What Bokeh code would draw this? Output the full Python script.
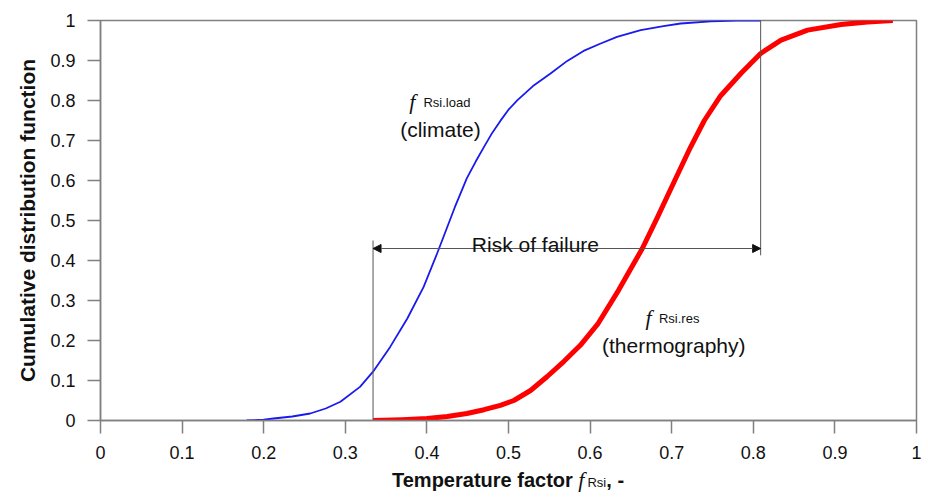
from bokeh.plotting import figure
from bokeh.models import Range1d, FixedTicker, Label, Arrow, NormalHead, ColumnDataSource, Div
from bokeh.layouts import column
from bokeh.embed import file_html
from bokeh.resources import INLINE

# ---- data ----
load_x = [0.179, 0.200, 0.212, 0.235, 0.257, 0.276, 0.294, 0.318, 0.334, 0.355, 0.376, 0.396,
          0.4125, 0.419, 0.434, 0.449, 0.460, 0.470, 0.480, 0.490, 0.500, 0.511, 0.530, 0.5515,
          0.572, 0.592, 0.613, 0.633, 0.662, 0.690, 0.711, 0.748, 0.780, 0.809]
load_y = [0.0, 0.002, 0.005, 0.010, 0.0175, 0.030, 0.047, 0.084, 0.122, 0.184, 0.255, 0.334,
          0.4175, 0.452, 0.532, 0.606, 0.648, 0.684, 0.719, 0.749, 0.777, 0.801, 0.836, 0.8675,
          0.899, 0.924, 0.9425, 0.959, 0.976, 0.986, 0.9925, 0.998, 1.0, 1.0]

res_x = [0.334, 0.370, 0.400, 0.425, 0.449, 0.470, 0.490, 0.5065, 0.527, 0.5475, 0.568, 0.588,
         0.610, 0.635, 0.664, 0.6825, 0.703, 0.723, 0.740, 0.760, 0.785, 0.809,
         0.834, 0.8665, 0.9075, 0.94, 0.971]
res_y = [0.0, 0.002, 0.005, 0.010, 0.0175, 0.027, 0.038, 0.05, 0.075, 0.11, 0.148, 0.188,
         0.243, 0.326, 0.43, 0.508, 0.597, 0.683, 0.750, 0.812, 0.868, 0.9175,
         0.951, 0.976, 0.99, 0.9965, 1.0]

guide_x = [0.334, 0.809]
guide_y0 = [0.0, 0.413]
guide_y1 = [0.45, 1.0]

arrow_x0 = [0.334]
arrow_x1 = [0.809]
arrow_y = [0.43]

ticks = [0, 0.1, 0.2, 0.3, 0.4, 0.5, 0.6, 0.7, 0.8, 0.9, 1]
tick_labels = ["0", "0.1", "0.2", "0.3", "0.4", "0.5", "0.6", "0.7", "0.8", "0.9", "1"]

SANS = "Liberation Sans"
SERIF = "Liberation Serif"
AXC = "#808080"
TXT = "#111111"

p = figure(width=928, height=470, x_range=Range1d(0, 1), y_range=Range1d(0, 1),
           output_backend="svg", toolbar_location=None,
           min_border_left=100, min_border_right=12, min_border_top=20, min_border_bottom=50)
p.title.visible = False
p.grid.visible = False
p.outline_line_color = AXC
p.outline_line_width = 1.5
p.background_fill_color = "white"
p.border_fill_color = "white"
p.margin = 0

overrides = {t: l for t, l in zip(ticks, tick_labels)}
for ax in (p.xaxis[0], p.yaxis[0]):
    ax.ticker = FixedTicker(ticks=ticks)
    ax.major_label_overrides = overrides
    ax.minor_tick_line_color = None
    ax.major_tick_in = 0
    ax.major_tick_out = 13
    ax.major_tick_line_color = AXC
    ax.major_tick_line_width = 1.5
    ax.axis_line_color = AXC
    ax.axis_line_width = 1.5
    ax.major_label_text_font = SANS
    ax.major_label_text_font_size = "18px"
    ax.major_label_text_color = TXT
    ax.major_label_standoff = 12

p.yaxis.axis_label = "Cumulative distribution function"
p.yaxis.axis_label_text_font = SANS
p.yaxis.axis_label_text_font_style = "bold"
p.yaxis.axis_label_text_font_size = "21px"
p.yaxis.axis_label_text_color = TXT
p.yaxis.axis_label_standoff = 8

# curves
p.line(load_x, load_y, line_color="#1a1aee", line_width=1.8, line_join="round")
p.line(res_x, res_y, line_color="#ff0000", line_width=5, line_join="round")

# guides
p.segment(x0=guide_x, y0=guide_y0, x1=guide_x, y1=guide_y1, line_color="#555555", line_width=1)

asrc = ColumnDataSource(dict(x0=arrow_x0, x1=arrow_x1, y=arrow_y))
p.add_layout(Arrow(source=asrc, x_start="x0", y_start="y", x_end="x1", y_end="y",
                   line_color="#555555", line_width=1,
                   start=NormalHead(size=8, fill_color=TXT, line_color=TXT),
                   end=NormalHead(size=8, fill_color=TXT, line_color=TXT)))

def lab(x, y, text, font=SANS, size="21px", style="normal", align="left"):
    p.add_layout(Label(x=x, y=y, text=text, text_font=font, text_font_size=size,
                       text_font_style=style, text_align=align, text_baseline="alphabetic",
                       text_color=TXT))

lab(0.533, 0.441, "Risk of failure", align="center")
lab(0.3785, 0.798, "f", font=SERIF, size="22px", style="italic")
lab(0.3957, 0.794, "Rsi.load", size="13px")
lab(0.4166, 0.7275, "(climate)", align="center")
lab(0.668, 0.258, "f", font=SERIF, size="22px", style="italic")
lab(0.6844, 0.255, "Rsi.res", size="13px")
lab(0.7025, 0.1868, "(thermography)", align="center")

# x axis title with mixed styling (bold text, italic serif f, small Rsi)
xtitle_html = (
    "<div style=\"position:relative; width:928px; height:28px; margin:0; padding:0;\">"
    "<span style=\"position:absolute; left:392px; top:0px; white-space:nowrap; "
    "font-family:'Liberation Sans'; font-weight:bold; font-size:20px; line-height:20px; color:#111111;\">"
    "Temperature factor "
    "<span style=\"font-family:'Liberation Serif'; font-style:italic; font-weight:normal; font-size:22px;\">f</span>"
    "<span style=\"font-weight:normal; font-size:13px; margin-left:3px;\">Rsi</span>"
    ", -</span></div>"
)
xtitle = Div(text=xtitle_html, width=928, height=28, margin=0)

layout = column(p, xtitle, spacing=0)
open("out.html", "w").write(file_html(layout, INLINE))
